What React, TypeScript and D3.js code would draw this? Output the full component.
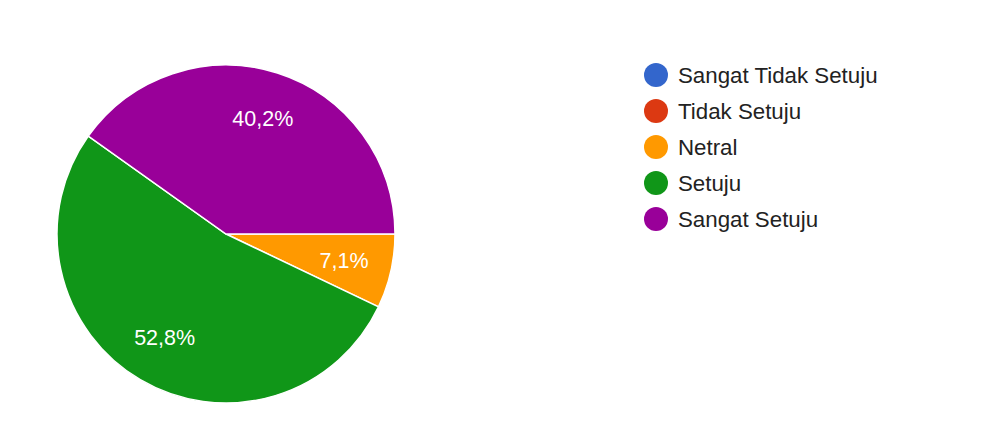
import React from "react";
import * as d3 from "d3";

const categories = ["Sangat Tidak Setuju", "Tidak Setuju", "Netral", "Setuju", "Sangat Setuju"];
const values = [0, 0, 7.1, 52.8, 40.2];
const labels = ["0%", "0%", "7,1%", "52,8%", "40,2%"];
const colors = ["#3366cc", "#dc3912", "#ff9900", "#109618", "#990099"];

export default function App() {
  const width = 987;
  const height = 435;
  const cx = 226;
  const cy = 234;
  const r = 169;

  const pie = d3
    .pie<number>()
    .sort(null)
    .startAngle(Math.PI / 2)
    .endAngle(Math.PI / 2 + 2 * Math.PI)
    .value((d) => d);
  const arcs = pie(values);
  const arc = d3.arc<d3.PieArcDatum<number>>().innerRadius(0).outerRadius(r);
  const labelArc = d3.arc<d3.PieArcDatum<number>>().innerRadius(121).outerRadius(121);

  const legendY = d3.scalePoint<string>().domain(categories).range([75, 219]);

  return (
    <svg
      width={width}
      height={height}
      style={{ position: "absolute", left: 0, top: 0, background: "#fff" }}
      fontFamily="'Liberation Sans', Arial, sans-serif"
    >
      <g transform={`translate(${cx},${cy})`}>
        {arcs.map((a, i) =>
          a.value > 0 ? (
            <path key={i} d={arc(a) || ""} fill={colors[i]} stroke="#ffffff" strokeWidth={1.5} />
          ) : null
        )}
        {arcs.map((a, i) => {
          if (a.value <= 0) return null;
          const [x, y] = labelArc.centroid(a);
          return (
            <text
              key={"l" + i}
              x={x}
              y={y}
              fill="#ffffff"
              fontSize={21.5}
              textAnchor="middle"
              dominantBaseline="central"
            >
              {labels[i]}
            </text>
          );
        })}
      </g>
      <g>
        {categories.map((c, i) => (
          <g key={c} transform={`translate(656,${legendY(c)})`}>
            <circle r={12} fill={colors[i]} />
            <text x={22} y={0} fontSize={22.3} fill="#222222" dominantBaseline="central">
              {c}
            </text>
          </g>
        ))}
      </g>
    </svg>
  );
}
